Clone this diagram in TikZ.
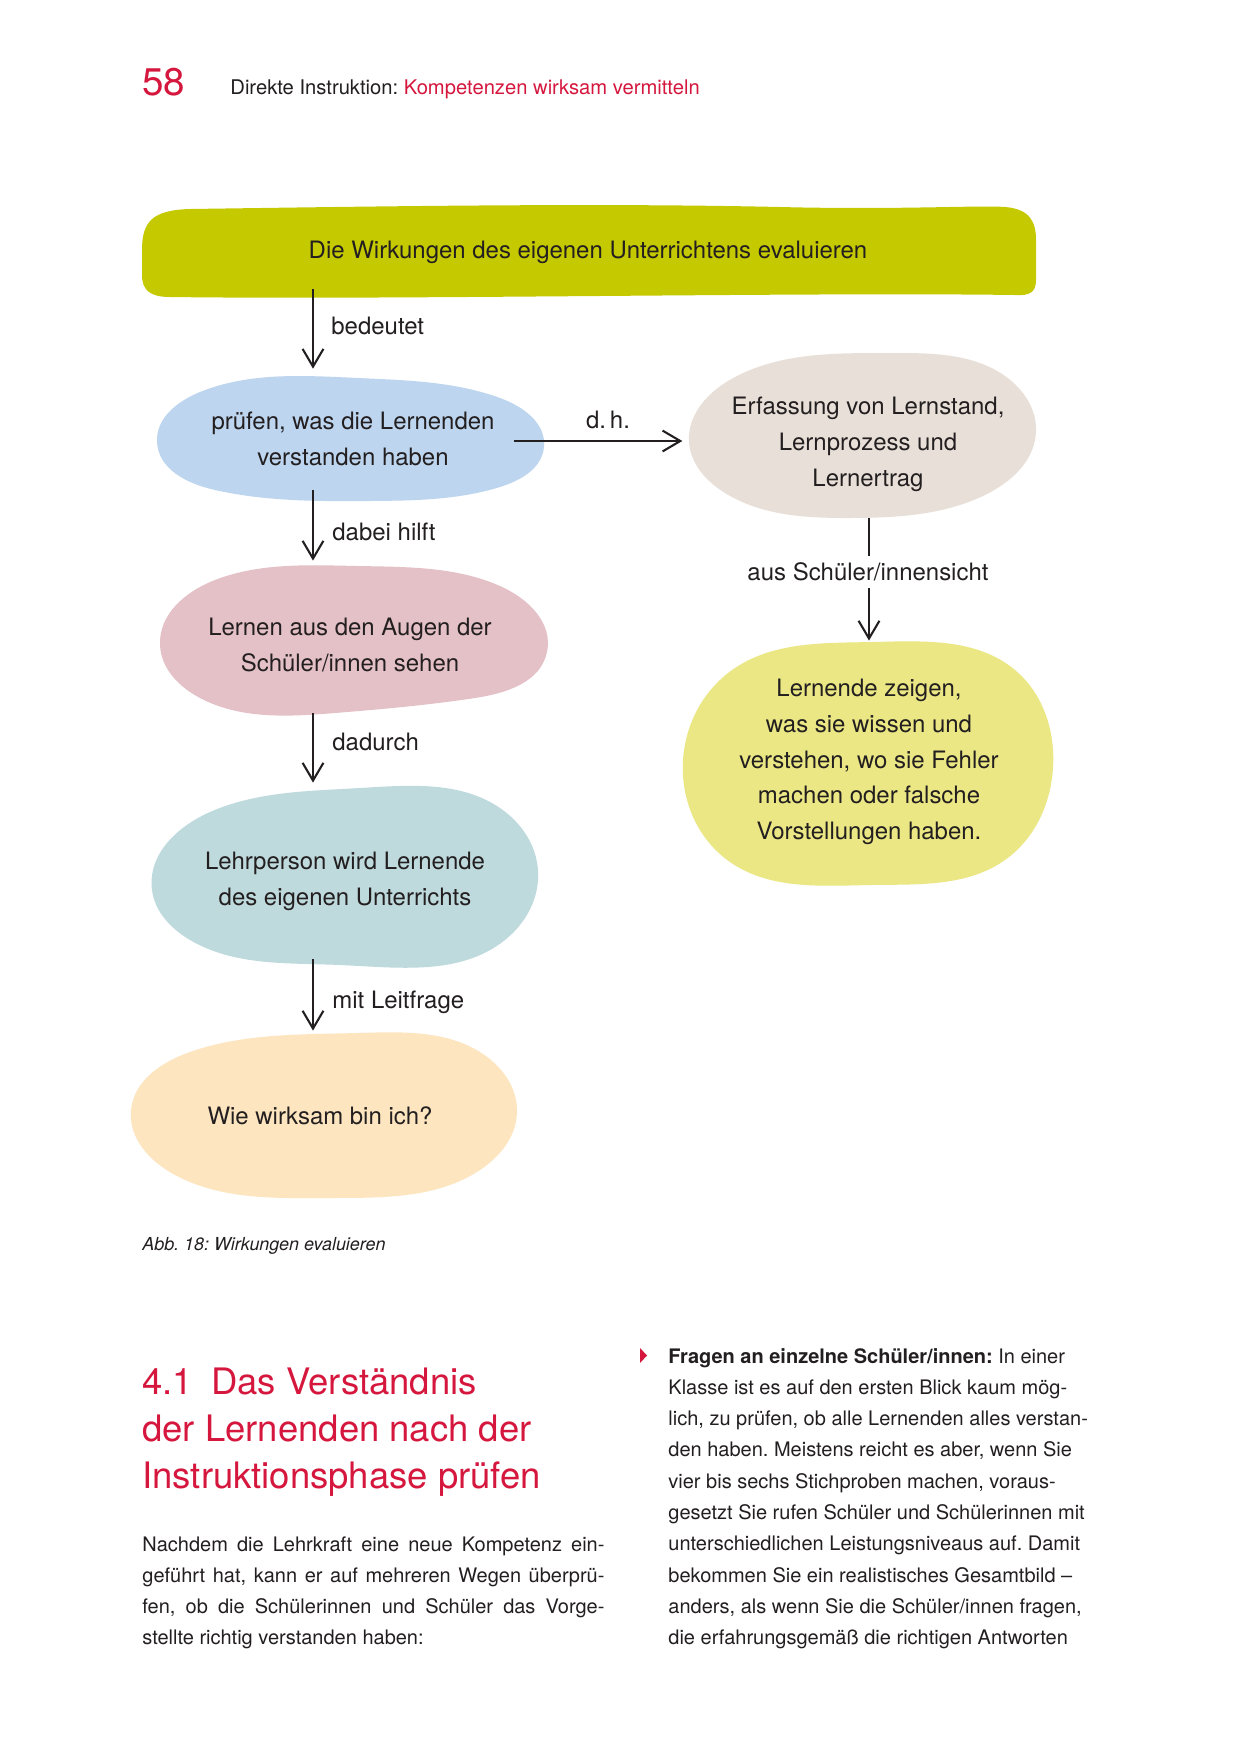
\documentclass[tikz,border=0pt]{standalone}
\usepackage{fontspec}
\setmainfont{TeX Gyre Heros}
\usetikzlibrary{arrows.meta,fit,calc,hobby}
\definecolor{pgred}{RGB}{213,23,62}
\definecolor{ink}{RGB}{35,31,32}
\definecolor{cBanner}{RGB}{197,201,0}
\definecolor{cBlue}{RGB}{189,213,238}
\definecolor{cBeige}{RGB}{232,224,216}
\definecolor{cPink}{RGB}{228,193,199}
\definecolor{cTeal}{RGB}{191,218,221}
\definecolor{cYellow}{RGB}{234,231,132}
\definecolor{cPeach}{RGB}{253,230,191}
\frenchspacing
\begin{document}
\begin{tikzpicture}[x=0.48pt,y=-0.48pt,
  bbox/.style={inner sep=0pt, draw=none},
  blobtext/.style={font=\fontsize{11.5}{17.2}\selectfont, text=ink, align=center, inner sep=0pt},
  lbl/.style={font=\fontsize{11.5}{14}\selectfont, text=ink, inner sep=0pt},
  arr/.style={draw=ink, line width=1pt, -{Straight Barb[length=8.5pt,width=10pt,line width=1pt]}},
  conn/.style={draw=ink, line width=1pt},
  body/.style={font=\fontsize{9.6}{15}\selectfont, text=ink, anchor=base west, inner sep=0pt},
  headl/.style={font=\fontsize{17.5}{22}\selectfont, text=pgred, anchor=base west, inner sep=0pt},
  blob/.style={use Hobby shortcut, closed=true}
]
\fill[white] (0,0) rectangle (1240,1754);
\useasboundingbox (0,0) rectangle (1240,1754);

% header
\node[anchor=base west, inner sep=0pt, font=\fontsize{18.5}{20}\selectfont, text=pgred] (pnum) at (142,95) {58};
\node[anchor=base west, inner sep=0pt, font=\fontsize{9.7}{12}\selectfont, text=ink] (runhead) at (230,94) {Direkte Instruktion: \textcolor{pgred}{Kompetenzen wirksam vermitteln}};

% blobs
\fill[cBanner] (142,250) .. controls (142,222) and (152,210) .. (190,209)
  .. controls (400,206) and (600,203) .. (780,207)
  .. controls (900,210) and (980,205) .. (1005,207)
  .. controls (1030,209) and (1036,222) .. (1036,240) -- (1036,280)
  .. controls (1036,292) and (1030,296) .. (1015,295)
  .. controls (800,292) and (400,300) .. (170,297)
  .. controls (150,297) and (142,290) .. (142,275) -- cycle;
\fill[cBlue, blob] (157,442) .. (200,392) .. (358,378) .. (500,398) .. (544,447) .. (500,487) .. (370,501) .. (215,490);
\fill[cBeige, blob] (689,442) .. (735,377) .. (890,353) .. (1005,376) .. (1036,432) .. (985,495) .. (850,518) .. (725,493);
\fill[cPink, blob] (160,645) .. (215,580) .. (358,566) .. (500,586) .. (547,652) .. (475,698) .. (335,713) .. (200,698);
\fill[cTeal, blob] (152,890) .. (210,812) .. (360,788) .. (500,808) .. (538,870) .. (505,940) .. (340,965) .. (190,940);
\fill[cPeach, blob] (131,1110) .. (190,1052) .. (357,1033) .. (480,1052) .. (517,1113) .. (480,1170) .. (330,1198) .. (175,1175);
\fill[cYellow, blob] (683,760) .. (735,668) .. (872,642) .. (1015,670) .. (1053,768) .. (1005,860) .. (872,885) .. (730,862);

% bounding nodes of the blobs
\node[bbox, fit={(142,207) (1036,296)}] (banner) {};
\node[bbox, fit={(157,377) (544,501)}] (blue) {};
\node[bbox, fit={(689,353) (1036,518)}] (beige) {};
\node[bbox, fit={(160,566) (547,713)}] (pink) {};
\node[bbox, fit={(152,788) (539,964)}] (teal) {};
\node[bbox, fit={(131,1032) (518,1197)}] (peach) {};
\node[bbox, fit={(683,642) (1053,885)}] (yellow) {};

% texts
\node[blobtext] (bannerT) at (588,252) {Die Wirkungen des eigenen Unterrichtens evaluieren};
\node[blobtext] (blueT) at (353,439) {prüfen, was die Lernenden\\verstanden haben};
\node[blobtext] (beigeT) at (868,444) {Erfassung von Lernstand,\\Lernprozess und\\Lernertrag};
\node[blobtext] (pinkT) at (350,645) {Lernen aus den Augen der\\Schüler/innen sehen};
\node[blobtext] (tealT) at (345,881) {Lehrperson wird Lernende\\des eigenen Unterrichts};
\node[blobtext] (peachT) at (320,1116) {Wie wirksam bin ich?};
\node[blobtext] (yellowT) at (869,762) {Lernende zeigen,\\was sie wissen und\\verstehen, wo sie Fehler\\machen oder falsche\\Vorstellungen haben.};

% connectors
\coordinate (colA) at (313,0);
\coordinate (colB) at (869,0);
\coordinate (rowA) at (0,441);
\draw[arr, shorten <=-3.8pt, shorten >=3.8pt] (banner.south -| colA) -- (blue.north -| colA);
\node[lbl, anchor=west] (l1) at (331,326) {bedeutet};
\draw[arr, shorten <=-5.3pt, shorten >=2.4pt] (blue.south -| colA) -- (pink.north -| colA);
\node[lbl, anchor=west] (l2) at (332,532) {dabei hilft};
\draw[arr, shorten <=0pt, shorten >=2.4pt] (pink.south -| colA) -- (teal.north -| colA);
\node[lbl, anchor=west] (l3) at (332,742) {dadurch};
\draw[arr, shorten <=-2.4pt, shorten >=0.5pt] (teal.south -| colA) -- (peach.north -| colA);
\node[lbl, anchor=west] (l4) at (332,1002) {mit Leitfrage};
\draw[arr, shorten <=-14.4pt, shorten >=3pt] (blue.east |- rowA) -- (beige.west |- rowA);
\node[lbl] (l5) at (608,420) {d.\,h.};
\node[lbl] (l6) at (868,572) {aus Schüler/innensicht};
\draw[conn, shorten >=3pt] (beige.south -| colB) -- (l6.north -| colB);
\draw[arr, shorten <=3pt, shorten >=0.5pt] (l6.south -| colB) -- (yellow.north -| colB);

% caption
\node[anchor=base west, inner sep=0pt, font=\fontsize{8.6}{10}\selectfont\itshape, text=ink] (cap) at (142,1250) {Abb. 18: Wirkungen evaluieren};

% heading
\node[headl] (h1) at (142,1394) {4.1\hspace{0.5em}Das Verständnis};
\node[headl] (h2) at (142,1441) {der Lernenden nach der};
\node[headl] (h3) at (142,1488) {Instruktionsphase prüfen};

% left body
\node[body] (b1) at (142,1551) {\makebox[221.8pt][s]{Nachdem die Lehrkraft eine neue Kompetenz ein-}};
\node[body] (b2) at (142,1582.3) {\makebox[221.8pt][s]{geführt hat, kann er auf mehreren Wegen überprü-}};
\node[body] (b3) at (142,1613.6) {\makebox[221.8pt][s]{fen, ob die Schülerinnen und Schüler das Vorge-}};
\node[body] (b4) at (142,1644.9) {stellte richtig verstanden haben:};

% right column
\fill[pgred] (640,1348) -- (647,1355.5) -- (640,1363) -- cycle;
\node[body] (r1) at (668,1363) {\textbf{Fragen an einzelne Schüler/innen:} In einer};
\node[body] (r2) at (668,1394.3) {Klasse ist es auf den ersten Blick kaum mög-};
\node[body] (r3) at (668,1425.6) {lich, zu prüfen, ob alle Lernenden alles verstan-};
\node[body] (r4) at (668,1456.9) {den haben. Meistens reicht es aber, wenn Sie};
\node[body] (r5) at (668,1488.2) {vier bis sechs Stichproben machen, voraus-};
\node[body] (r6) at (668,1519.5) {gesetzt Sie rufen Schüler und Schülerinnen mit};
\node[body] (r7) at (668,1550.8) {unterschiedlichen Leistungsniveaus auf. Damit};
\node[body] (r8) at (668,1582.1) {bekommen Sie ein realistisches Gesamtbild –};
\node[body] (r9) at (668,1613.4) {anders, als wenn Sie die Schüler/innen fragen,};
\node[body] (r10) at (668,1644.7) {die erfahrungsgemäß die richtigen Antworten};
\end{tikzpicture}
\end{document}
